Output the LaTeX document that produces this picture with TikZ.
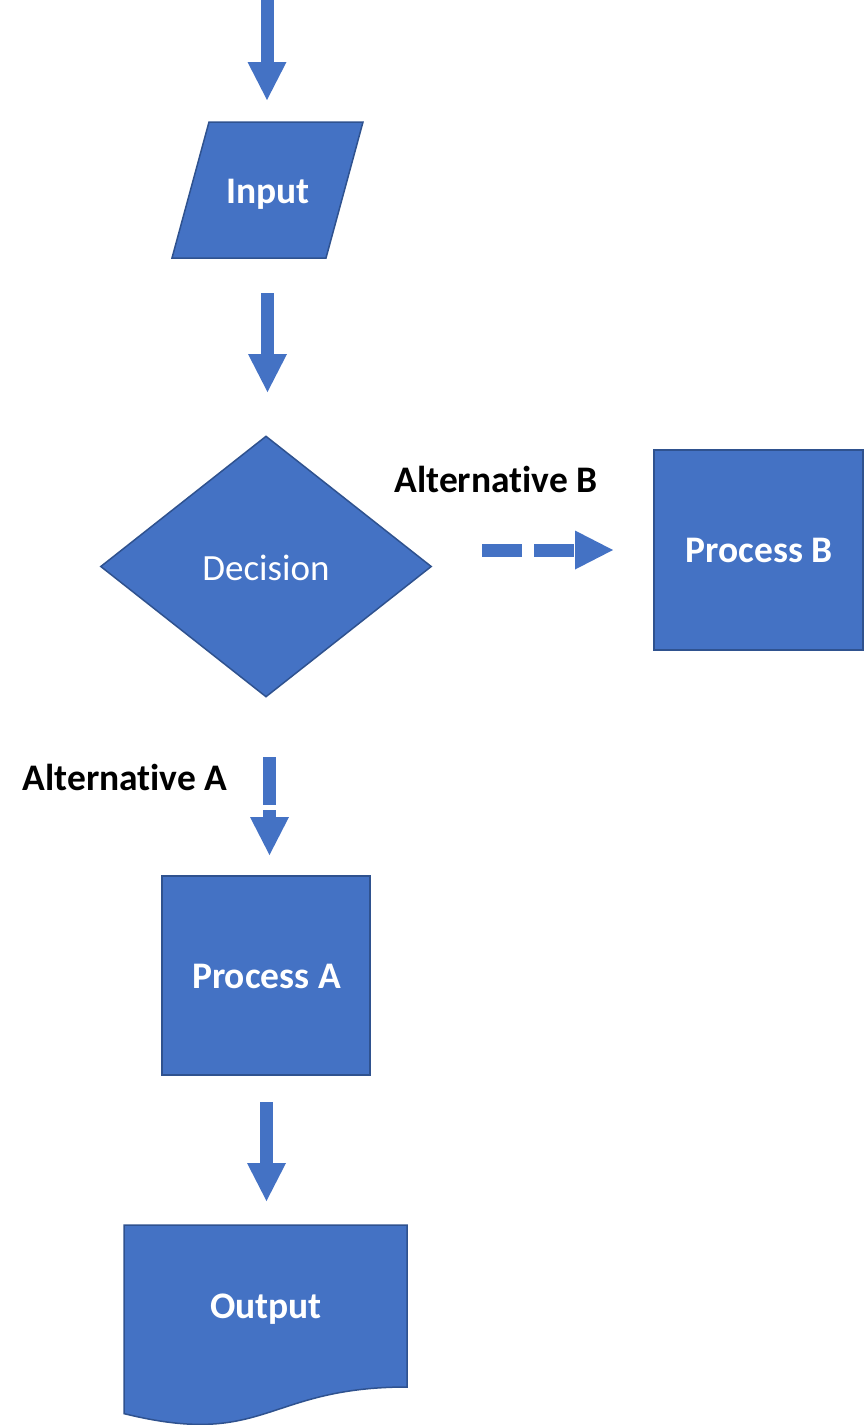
\documentclass[tikz,border=0pt]{standalone}
\usepackage{fontspec}
\setmainfont[Ligatures=NoCommon]{Carlito}
\usetikzlibrary{arrows.meta,shapes.geometric}
\definecolor{ofblue}{HTML}{4472C4}
\definecolor{ofedge}{HTML}{2F528F}
\tikzset{
  shapebox/.style={fill=ofblue,draw=ofedge,line width=1.5pt,text=white,font=\fontsize{37.5}{45}\selectfont\bfseries,inner sep=0pt},
  wtext/.style={text=white,font=\fontsize{37.5}{45}\selectfont\bfseries,inner sep=0pt,anchor=base},
  btext/.style={text=black,font=\fontsize{37.5}{45}\selectfont\bfseries,inner sep=0pt,anchor=base},
  blockarrow/.style={draw=ofblue,line width=13pt,line cap=butt,
     -{Triangle[width=39pt,length=38pt,line width=0pt,fill=ofblue]}},
}
\begin{document}
\begin{tikzpicture}[x=1pt,y=-1pt]
\useasboundingbox (0,0) rectangle (864,1425);
% Input parallelogram
\draw[fill=ofblue,draw=ofedge,line width=1.5pt] (209,122) -- (363,122) -- (326,258) -- (172,258) -- cycle;
\node[wtext] (inp) at (268,203) {Input};
% Decision
\node[shapebox,diamond,minimum width=331pt,minimum height=261pt] (dec) at (266,566.5) {};
\node[wtext,font=\fontsize{37}{44}\selectfont] (dect) at (266,580) {Decision};
% Process B
\node[shapebox,rectangle,minimum width=209pt,minimum height=200pt] (pB) at (758.5,550) {};
\node[wtext] (pBt) at (759,562) {Process B};
% Process A
\node[shapebox,rectangle,minimum width=208pt,minimum height=199pt] (pA) at (266,975.5) {};
\node[wtext] (pAt) at (266.5,988) {Process A};
% Output document
\draw[fill=ofblue,draw=ofedge,line width=1.5pt] (124,1225) -- (407,1225) -- (407,1387)
   .. controls (265.5,1387) and (265.5,1448.7) .. (124,1413.6) -- cycle;
\node[wtext] (out) at (266,1318) {Output};
% labels
\node[btext] (altB) at (496,492) {Alternative B};
\node[btext] (altA) at (125,790) {Alternative A};
% arrow coordinates
\coordinate (a1s) at (267,0);
\coordinate (a1e) at (267,100);
\coordinate (a2s) at (267.5,293);
\coordinate (a2e) at (267.5,392);
\coordinate (bs) at (482,550);
\coordinate (be) at (613,550);
\coordinate (as) at (269.5,757);
\coordinate (ae) at (269.5,855);
\coordinate (a4s) at (266.5,1102);
\coordinate (a4e) at (266.5,1201);
\draw[blockarrow] (a1s) -- (a1e);
\draw[blockarrow] (a2s) -- (a2e);
\draw[blockarrow,dash pattern=on 40pt off 12pt] (bs) -- (be);
\draw[blockarrow,dash pattern=on 48pt off 5pt] (as) -- (ae);
\draw[blockarrow] (a4s) -- (a4e);
\end{tikzpicture}
\end{document}
